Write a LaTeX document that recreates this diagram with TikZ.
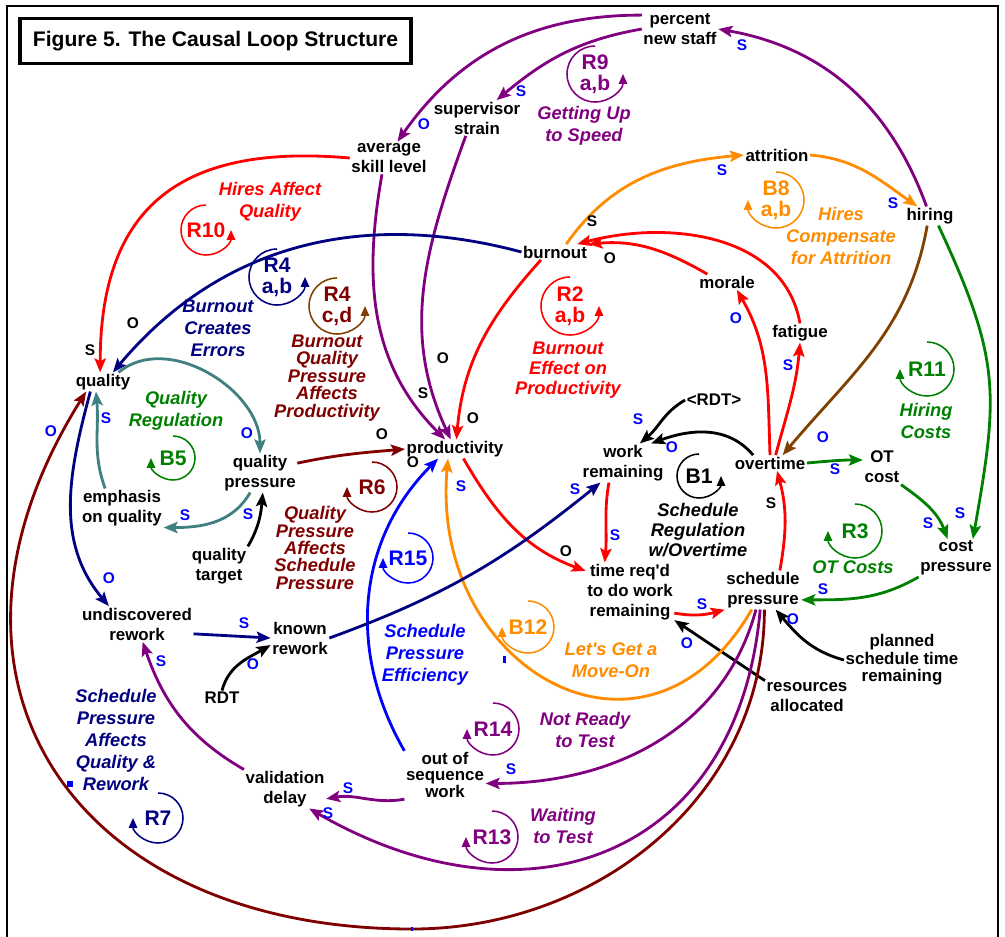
\documentclass[tikz,border=0pt]{standalone}
\usepackage{fontspec}
\setmainfont{Liberation Sans}
\usetikzlibrary{arrows.meta}
\definecolor{cldPurple}{RGB}{128,0,128}
\definecolor{cldRed}{RGB}{255,0,0}
\definecolor{cldNavy}{RGB}{0,0,128}
\definecolor{cldOrange}{RGB}{255,140,0}
\definecolor{cldTeal}{RGB}{64,128,128}
\definecolor{cldGreen}{RGB}{0,128,0}
\definecolor{cldMaroon}{RGB}{128,0,0}
\definecolor{cldBrown}{RGB}{128,64,0}
\definecolor{cldBlue}{RGB}{0,0,255}

\begin{document}
\begin{tikzpicture}[
  x=0.025cm, y=0.025cm,
  >={Stealth[length=10pt,width=8pt,inset=2pt]},
  var/.style={align=center, inner sep=1pt, font=\fontsize{12}{14.2}\selectfont\bfseries},
  loopname/.style={align=center, inner sep=0pt, font=\fontsize{13}{15.5}\selectfont\bfseries\itshape},
  tightname/.style={loopname, font=\fontsize{13}{12.4}\selectfont\bfseries\itshape},
  loopid/.style={align=center, inner sep=0pt, font=\fontsize{15}{15}\selectfont\bfseries},
  looparc/.style={-{Triangle[length=7pt,width=6pt]}, line width=1.1pt},
  pol/.style={inner sep=0pt, text=cldBlue, font=\fontsize{11}{11}\selectfont\bfseries},
  polk/.style={pol, text=black},
  arr/.style={->, line width=2pt}
]
\useasboundingbox (0,0) rectangle (1005,-936);

% frame and title
\draw[line width=2pt] (7,-945) -- (7,-6) -- (998,-6) -- (998,-945);
\node[draw, line width=2.2pt, minimum width=278pt, minimum height=32.5pt,
  font=\fontsize{15}{18}\selectfont\bfseries] (title) at (215.5,-41)
  {Figure 5. The Causal Loop Structure};

% variables
\node[var] (pns) at (680,-29) {percent\\new staff};
\node[var] (sstrain) at (477,-118) {supervisor\\strain};
\node[var] (skill) at (389,-158) {average\\skill level};
\node[var] (attr) at (777,-155) {attrition};
\node[var] (hiring) at (930,-216) {hiring};
\node[var] (burnout) at (555,-252) {burnout};
\node[var] (morale) at (727,-282) {morale};
\node[var] (fatigue) at (800,-333) {fatigue};
\node[var] (rdtw) at (714,-400) {<RDT>};
\node[var] (workrem) at (623,-463) {work\\remaining};
\node[var] (overtime) at (770,-463) {overtime};
\node[var] (otcost) at (882,-467) {OT\\cost};
\node[var] (costp) at (956,-558) {cost\\pressure};
\node[var] (schedp) at (763,-590) {schedule\\pressure};
\node[var] (treq) at (630,-592) {time req\textquotesingle d\\to do work\\remaining};
\node[var] (prod) at (455,-449) {productivity};
\node[var] (quality) at (103,-382) {quality};
\node[var] (qpress) at (260,-473) {quality\\pressure};
\node[var] (emph) at (122,-508) {emphasis\\on quality};
\node[var] (qtarget) at (219,-566) {quality\\target};
\node[var] (undisc) at (137,-624) {undiscovered\\rework};
\node[var] (known) at (300,-638) {known\\rework};
\node[var] (rdt) at (222,-698) {RDT};
\node[var] (valdelay) at (285,-789) {validation\\delay};
\node[var, font=\fontsize{12}{11}\selectfont\bfseries] (oos) at (445,-775) {out of\\sequence\\work};
\node[var] (resalloc) at (807,-697) {resources\\allocated};
\node[var, font=\fontsize{12}{12.5}\selectfont\bfseries] (planned) at (902,-660) {planned\\schedule time\\remaining};

% loop markers
\node[loopid, text=cldPurple] (r9) at (595,-74) {R9\\a,b};
\draw[looparc, cldPurple] (r9.center) ++(90:28) arc[start angle=90, end angle=360, radius=28];
\node[loopid, text=cldOrange] (b8) at (776,-200) {B8\\a,b};
\draw[looparc, cldOrange] (b8.center) ++(90:28) arc[start angle=90, end angle=-180, radius=28];
\node[loopid, text=cldRed] (r10) at (206,-230) {R10};
\draw[looparc, cldRed] (r10.center) ++(90:25) arc[start angle=90, end angle=360, radius=25];
\node[loopid, text=cldNavy] (r4ab) at (277,-277) {R4\\a,b};
\draw[looparc, cldNavy] (r4ab.center) ++(90:28) arc[start angle=90, end angle=360, radius=28];
\node[loopid, text=cldMaroon] (r4cd) at (337,-306) {R4\\c,d};
\draw[looparc, cldBrown] (r4cd.center) ++(90:28) arc[start angle=90, end angle=360, radius=28];
\node[loopid, text=cldRed] (r2) at (570,-306) {R2\\a,b};
\draw[looparc, cldRed] (r2.center) ++(90:29) arc[start angle=90, end angle=360, radius=29];
\node[loopid, text=cldGreen] (b5) at (173,-458) {B5};
\draw[looparc, cldGreen] (b5.center) ++(90:22) arc[start angle=90, end angle=-180, radius=22];
\node[loopid, text=cldMaroon] (r6) at (372,-487) {R6};
\draw[looparc, cldMaroon] (r6.center) ++(90:25) arc[start angle=90, end angle=-180, radius=25];
\node[loopid, text=cldBlue] (r15) at (408,-558) {R15};
\draw[looparc, cldBlue] (r15.center) ++(90:25) arc[start angle=90, end angle=-180, radius=25];
\node[loopid] (b1) at (699,-476) {B1};
\draw[looparc] (b1.center) ++(90:22) arc[start angle=90, end angle=360, radius=22];
\node[loopid, text=cldGreen] (r11) at (927,-369) {R11};
\draw[looparc, cldGreen] (r11.center) ++(90:27) arc[start angle=90, end angle=-180, radius=27];
\node[loopid, text=cldGreen] (r3) at (855,-531) {R3};
\draw[looparc, cldGreen] (r3.center) ++(90:27) arc[start angle=90, end angle=-180, radius=27];
\node[loopid, text=cldOrange] (b12) at (528,-627) {B12};
\draw[looparc, cldOrange] (b12.center) ++(90:26) arc[start angle=90, end angle=-180, radius=26];
\node[loopid, text=cldPurple] (r14) at (493,-729) {R14};
\draw[looparc, cldPurple] (r14.center) ++(90:26) arc[start angle=90, end angle=-180, radius=26];
\node[loopid, text=cldPurple] (r13) at (492,-837) {R13};
\draw[looparc, cldPurple] (r13.center) ++(90:26) arc[start angle=90, end angle=-180, radius=26];
\node[loopid, text=cldNavy] (r7) at (158,-818) {R7};
\draw[looparc, cldNavy] (r7.center) ++(90:25) arc[start angle=90, end angle=-180, radius=25];

% loop names
\node[loopname, text=cldPurple] (nR9) at (584,-126) {Getting Up\\to Speed};
\node[loopname, text=cldOrange] (nB8) at (841,-236) {Hires\\Compensate\\for Attrition};
\node[loopname, text=cldRed] (nR10) at (270,-202) {Hires Affect\\Quality};
\node[loopname, text=cldNavy] (nR4ab) at (218,-328) {Burnout\\Creates\\Errors};
\node[tightname, text=cldMaroon] (nR4cd) at (327,-378) {Burnout\\Quality\\Pressure\\Affects\\Productivity};
\node[loopname, text=cldRed, font=\fontsize{13}{14.2}\selectfont\bfseries\itshape] (nR2) at (568,-370) {Burnout\\Effect on\\Productivity};
\node[loopname, text=cldGreen] (nB5) at (176,-411) {Quality\\Regulation};
\node[tightname, text=cldMaroon] (nR6) at (315,-548) {Quality\\Pressure\\Affects\\Schedule\\Pressure};
\node[loopname, text=cldBlue] (nR15) at (425,-655) {Schedule\\Pressure\\Efficiency};
\node[loopname, font=\fontsize{13}{14.2}\selectfont\bfseries\itshape] (nB1) at (698,-530) {Schedule\\Regulation\\w/Overtime};
\node[loopname, text=cldGreen] (nR11) at (926,-421) {Hiring\\Costs};
\node[loopname, text=cldGreen] (nR3) at (853,-567) {OT Costs};
\node[loopname, text=cldOrange] (nB12) at (611,-660) {Let\textquotesingle s Get a\\Move-On};
\node[loopname, text=cldPurple] (nR14) at (585,-730) {Not Ready\\to Test};
\node[loopname, text=cldPurple] (nR13) at (563,-826) {Waiting\\to Test};
\node[loopname, text=cldNavy] (nR7) at (116,-740) {Schedule\\Pressure\\Affects\\Quality \&\\Rework};

% staffing links
\draw[arr, cldPurple] (hiring) to[out=110, in=-10] (pns.east);
\draw[arr, cldPurple] (pns.west) to[out=190, in=40] ([xshift=14pt]sstrain.north);
\draw[arr, cldPurple] (pns.160) to[out=180, in=55] ([xshift=6pt]skill.north);
\draw[arr, cldPurple] ([xshift=-5pt]skill.south) to[out=-100, in=135] ([xshift=-7pt]prod.north);
\draw[arr, cldPurple] ([xshift=-8pt]sstrain.south) to[out=-110, in=115] ([xshift=-3pt]prod.north);
\draw[arr, cldRed] (skill.west) to[out=175, in=90, looseness=1.3] ([xshift=-2pt]quality.north);
\draw[arr, cldNavy] (burnout.west) to[out=165, in=50] ([xshift=7pt]quality.north);
\draw[arr, cldRed] ([xshift=-10pt]burnout.south) to[out=-132, in=85] ([xshift=1pt]prod.north);
\draw[arr, cldOrange] ([xshift=8pt]burnout.north) to[out=55, in=185] (attr.west);
\draw[arr, cldOrange] (attr.east) to[out=-5, in=145] ([xshift=-9pt]hiring.north);
\draw[arr, cldBrown] ([xshift=-2pt]hiring.south) to[out=-100, in=50] ([xshift=9pt]overtime.north);
\draw[arr, cldGreen] ([xshift=6pt]hiring.south) to[out=-65, in=80, looseness=1.2] ([xshift=12pt]costp.north);

% burnout and overtime
\draw[arr, cldRed] ([xshift=-14pt]morale.north) to[out=150, in=5] (burnout.north east);
\draw[arr, cldRed] (fatigue.north) to[out=100, in=15] ([xshift=-8pt]burnout.north east);
\draw[arr, cldRed] (overtime.north) to[out=92, in=-60] ([xshift=7pt]morale.south);
\draw[arr, cldRed] ([xshift=4pt]overtime.north) to[out=75, in=-95] (fatigue.south);
\draw[arr] ([xshift=-12pt]overtime.north) to[out=130, in=20] ([xshift=20pt]workrem.north);
\draw[arr] (rdtw.west) to[out=-150, in=40] ([xshift=12pt]workrem.north);
\draw[arr, cldGreen] (overtime.east) to[out=5, in=180] ([yshift=5pt]otcost.west);
\draw[arr, cldGreen] (otcost.south east) to[out=-35, in=110] ([xshift=-6pt]costp.north);
\draw[arr, cldGreen] (costp.south west) to[out=-150, in=0] ([yshift=-7pt]schedp.east);
\draw[arr, cldRed] ([xshift=12pt]schedp.north) to[out=80, in=-75] ([xshift=5pt]overtime.south);

% work and schedule
\draw[arr, cldRed] ([xshift=-10pt]workrem.south) to[out=-100, in=85] ([xshift=-18pt]treq.north);
\draw[arr, cldRed] ([xshift=6pt]prod.south) to[out=-60, in=160] ([yshift=15pt]treq.west);
\draw[arr, cldRed] ([yshift=-15pt]treq.east) to[out=-10, in=195] ([yshift=-14pt]schedp.west);
\draw[arr] (resalloc.north west) -- ([yshift=-20pt]treq.east);
\draw[arr] (planned.west) to[out=165, in=-50] ([xshift=9pt]schedp.south);

% loops leaving schedule pressure
\coordinate (r7low) at (412,-929);
\draw[arr, cldOrange] ([xshift=-8pt]schedp.south) to[out=-120, in=-95, looseness=1.6] ([xshift=-5pt]prod.south);
\draw[arr, cldPurple] ([xshift=-5pt]schedp.south) to[out=-105, in=0] ([yshift=-6pt]oos.east);
\draw[arr, cldPurple] ([xshift=-2pt]schedp.south) to[out=-95, in=-30, looseness=1.3] ([xshift=-12pt]valdelay.south east);
\draw[arr, cldMaroon] ([xshift=1pt]schedp.south) to[out=-90, in=0] (r7low)
  to[out=180, in=-122, looseness=1.38] ([xshift=-12pt]quality.south);
\draw[arr, cldPurple] (oos.south west) to[out=190, in=10] ([yshift=-7pt]valdelay.east);
\draw[arr, cldPurple] (valdelay.north west) to[out=150, in=-71] ([xshift=4pt]undisc.south);
\draw[arr, cldBlue] (oos.north west) to[out=120, in=-135] ([xshift=-12pt]prod.south);

% rework
\draw[arr, cldNavy] ([xshift=-9pt]quality.south) to[out=-105, in=130] ([xshift=-20pt]undisc.north);
\draw[arr, cldNavy] ([yshift=-7pt]undisc.east) -- (known.west);
\draw[arr] (rdt.north) to[out=75, in=210] ([yshift=-5pt]known.west);
\draw[arr, cldNavy] (known.east) to[out=20, in=219] ([xshift=-16pt]workrem.south);

% quality regulation
\draw[arr, cldTeal] ([xshift=11pt]quality.north) to[out=40, in=90] (qpress.north);
\draw[arr, cldTeal] ([xshift=-7pt]qpress.south) to[out=-120, in=0] (emph.south east);
\draw[arr, cldTeal] ([xshift=-12pt]emph.north) to[out=110, in=-85] ([xshift=-5pt]quality.south);
\draw[arr] (qtarget.north east) to[out=60, in=-95] ([xshift=2pt]qpress.south);
\draw[arr, cldMaroon] ([yshift=7pt]qpress.east) to[out=12, in=185] (prod.west);

% curve handles left in the source drawing
\fill[cldBlue] (67,-781) rectangle (73,-787);
\fill[cldBlue] (503,-656) rectangle (506,-663);
\fill[cldBlue] (411,-927) rectangle (413,-931);

% polarities
\node[pol] (p1) at (742,-45) {S};
\node[pol] (p2) at (521,-91) {S};
\node[pol] (p3) at (424,-124) {O};
\node[pol] (p4) at (722,-170) {S};
\node[pol] (p5) at (893,-203) {S};
\node[polk] (p6) at (592,-221) {S};
\node[polk] (p7) at (610,-258) {O};
\node[polk] (p8) at (133,-323) {O};
\node[polk] (p9) at (90,-350) {S};
\node[pol] (p10) at (736,-318) {O};
\node[pol] (p11) at (788,-365) {S};
\node[polk] (p12) at (423,-393) {S};
\node[polk] (p13) at (443,-358) {O};
\node[polk] (p14) at (473,-418) {O};
\node[pol] (p15) at (823,-437) {O};
\node[pol] (p16) at (960,-513) {S};
\node[pol] (p17) at (928,-523) {S};
\node[pol] (p18) at (835,-469) {S};
\node[pol] (p19) at (638,-419) {S};
\node[pol] (p20) at (672,-447) {O};
\node[polk] (p21) at (771,-503) {S};
\node[pol] (p22) at (823,-589) {S};
\node[pol] (p23) at (793,-619) {O};
\node[pol] (p24) at (615,-535) {S};
\node[polk] (p25) at (566,-551) {O};
\node[pol] (p26) at (702,-604) {S};
\node[pol] (p27) at (687,-643) {O};
\node[pol] (p28) at (575,-489) {S};
\node[pol] (p29) at (247,-433) {O};
\node[pol] (p30) at (106,-418) {S};
\node[pol] (p31) at (51,-431) {O};
\node[pol] (p32) at (185,-515) {S};
\node[pol] (p33) at (248,-514) {S};
\node[polk] (p34) at (382,-434) {O};
\node[polk] (p35) at (413,-462) {O};
\node[pol] (p36) at (461,-486) {S};
\node[pol] (p37) at (109,-578) {O};
\node[pol] (p38) at (244,-623) {S};
\node[pol] (p39) at (253,-664) {O};
\node[pol] (p40) at (161,-661) {S};
\node[pol] (p41) at (348,-788) {S};
\node[pol] (p42) at (328,-813) {S};
\node[pol] (p43) at (511,-769) {S};
\end{tikzpicture}
\end{document}
